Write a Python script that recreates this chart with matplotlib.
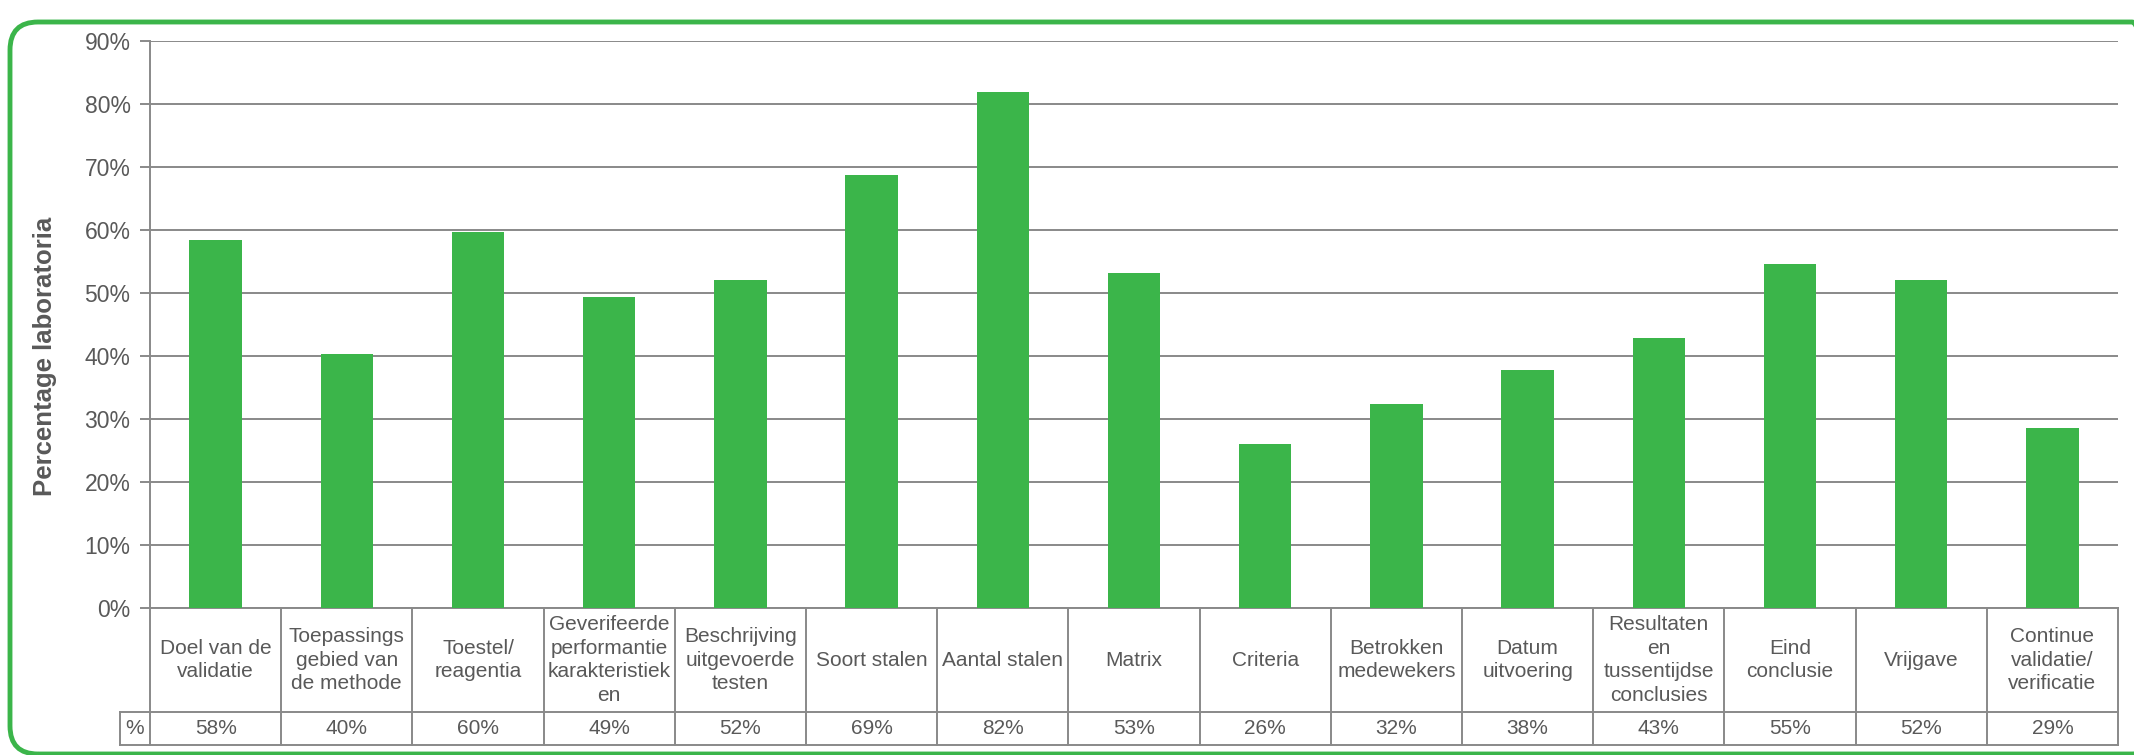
import numpy as np
import matplotlib.pyplot as plt
from matplotlib.patches import FancyBboxPatch
from matplotlib.transforms import blended_transform_factory

plt.rcParams['font.family'] = ['Liberation Sans', 'DejaVu Sans']

# Gegevens
categories = [
    'Doel van de\nvalidatie',
    'Toepassings\ngebied van\nde methode',
    'Toestel/\nreagentia',
    'Geverifeerde\nperformantie\nkarakteristiek\nen',
    'Beschrijving\nuitgevoerde\ntesten',
    'Soort stalen',
    'Aantal stalen',
    'Matrix',
    'Criteria',
    'Betrokken\nmedewekers',
    'Datum\nuitvoering',
    'Resultaten\nen\ntussentijdse\nconclusies',
    'Eind\nconclusie',
    'Vrijgave',
    'Continue\nvalidatie/\nverificatie',
]
percentages = [58.4, 40.3, 59.7, 49.4, 52.0, 68.8, 81.9, 53.2, 26.0, 32.4, 37.7, 42.9, 54.6, 52.0, 28.6]
y_ticks = [0, 10, 20, 30, 40, 50, 60, 70, 80, 90]

green = '#3BB54A'
grey = '#898989'
text_col = '#595959'
fs_table = 15
fs_ticks = 16.5

W, H = 2134, 755
fig = plt.figure(figsize=(W / 100, H / 100), dpi=100)
ax = fig.add_axes([150 / W, (H - 608) / H, 1968 / W, 567 / H])

x = np.arange(len(categories))
ax.bar(x, percentages, width=0.4, color=green, zorder=3)
ax.set_xlim(-0.5, len(categories) - 0.5)
ax.set_ylim(0, 90)
ax.set_yticks(y_ticks)
ax.set_yticklabels([f'{t}%' for t in y_ticks])
ax.grid(axis='y', color=grey, lw=1.4, zorder=0)
for s in ['top', 'right', 'bottom']:
    ax.spines[s].set_visible(False)
ax.spines['left'].set_color(grey)
ax.spines['left'].set_linewidth(1.4)
ax.tick_params(axis='y', length=7, width=1.4, color=grey, labelcolor=text_col,
               labelsize=fs_ticks, pad=7)
ax.tick_params(axis='x', bottom=False, labelbottom=False)

fig.text(45 / W, 1 - 356 / H, 'Percentage laboratoria', rotation=90,
         ha='center', va='center', fontsize=18.5, fontweight='bold', color=text_col)

# Datatabel onder de grafiek
trans = blended_transform_factory(ax.transData, ax.transAxes)
row1 = -(712 - 608) / 567
row2 = -(745 - 608) / 567
x_pct = -0.5 - 30 / (1968 / len(categories))
lk = dict(color=grey, lw=1.4, transform=trans, clip_on=False)

ax.plot([-0.5, len(categories) - 0.5], [0, 0], **lk)
ax.plot([x_pct, len(categories) - 0.5], [row1, row1], **lk)
ax.plot([x_pct, len(categories) - 0.5], [row2, row2], **lk)
ax.plot([x_pct, x_pct], [row1, row2], **lk)
for i in range(len(categories) + 1):
    ax.plot([i - 0.5, i - 0.5], [0, row2], **lk)

for i, (cat, v) in enumerate(zip(categories, percentages)):
    ax.text(i, row1 / 2, cat, transform=trans, ha='center', va='center',
            multialignment='center', fontsize=fs_table, color=text_col, linespacing=1.32)
    ax.text(i, (row1 + row2) / 2, f'{v:.0f}%', transform=trans, ha='center',
            va='center', fontsize=fs_table, color=text_col)
ax.text((x_pct - 0.5) / 2, (row1 + row2) / 2, '%', transform=trans, ha='center',
        va='center', fontsize=fs_table, color=text_col)

# Groene kader rond de figuur
frame = FancyBboxPatch((0.10, 0.01), 21.50, 7.32,
                       boxstyle='round,pad=0,rounding_size=0.28',
                       transform=fig.dpi_scale_trans, facecolor='none',
                       edgecolor=green, lw=3.5, clip_on=False)
fig.patches.append(frame)

plt.savefig('out.png', dpi=100)
